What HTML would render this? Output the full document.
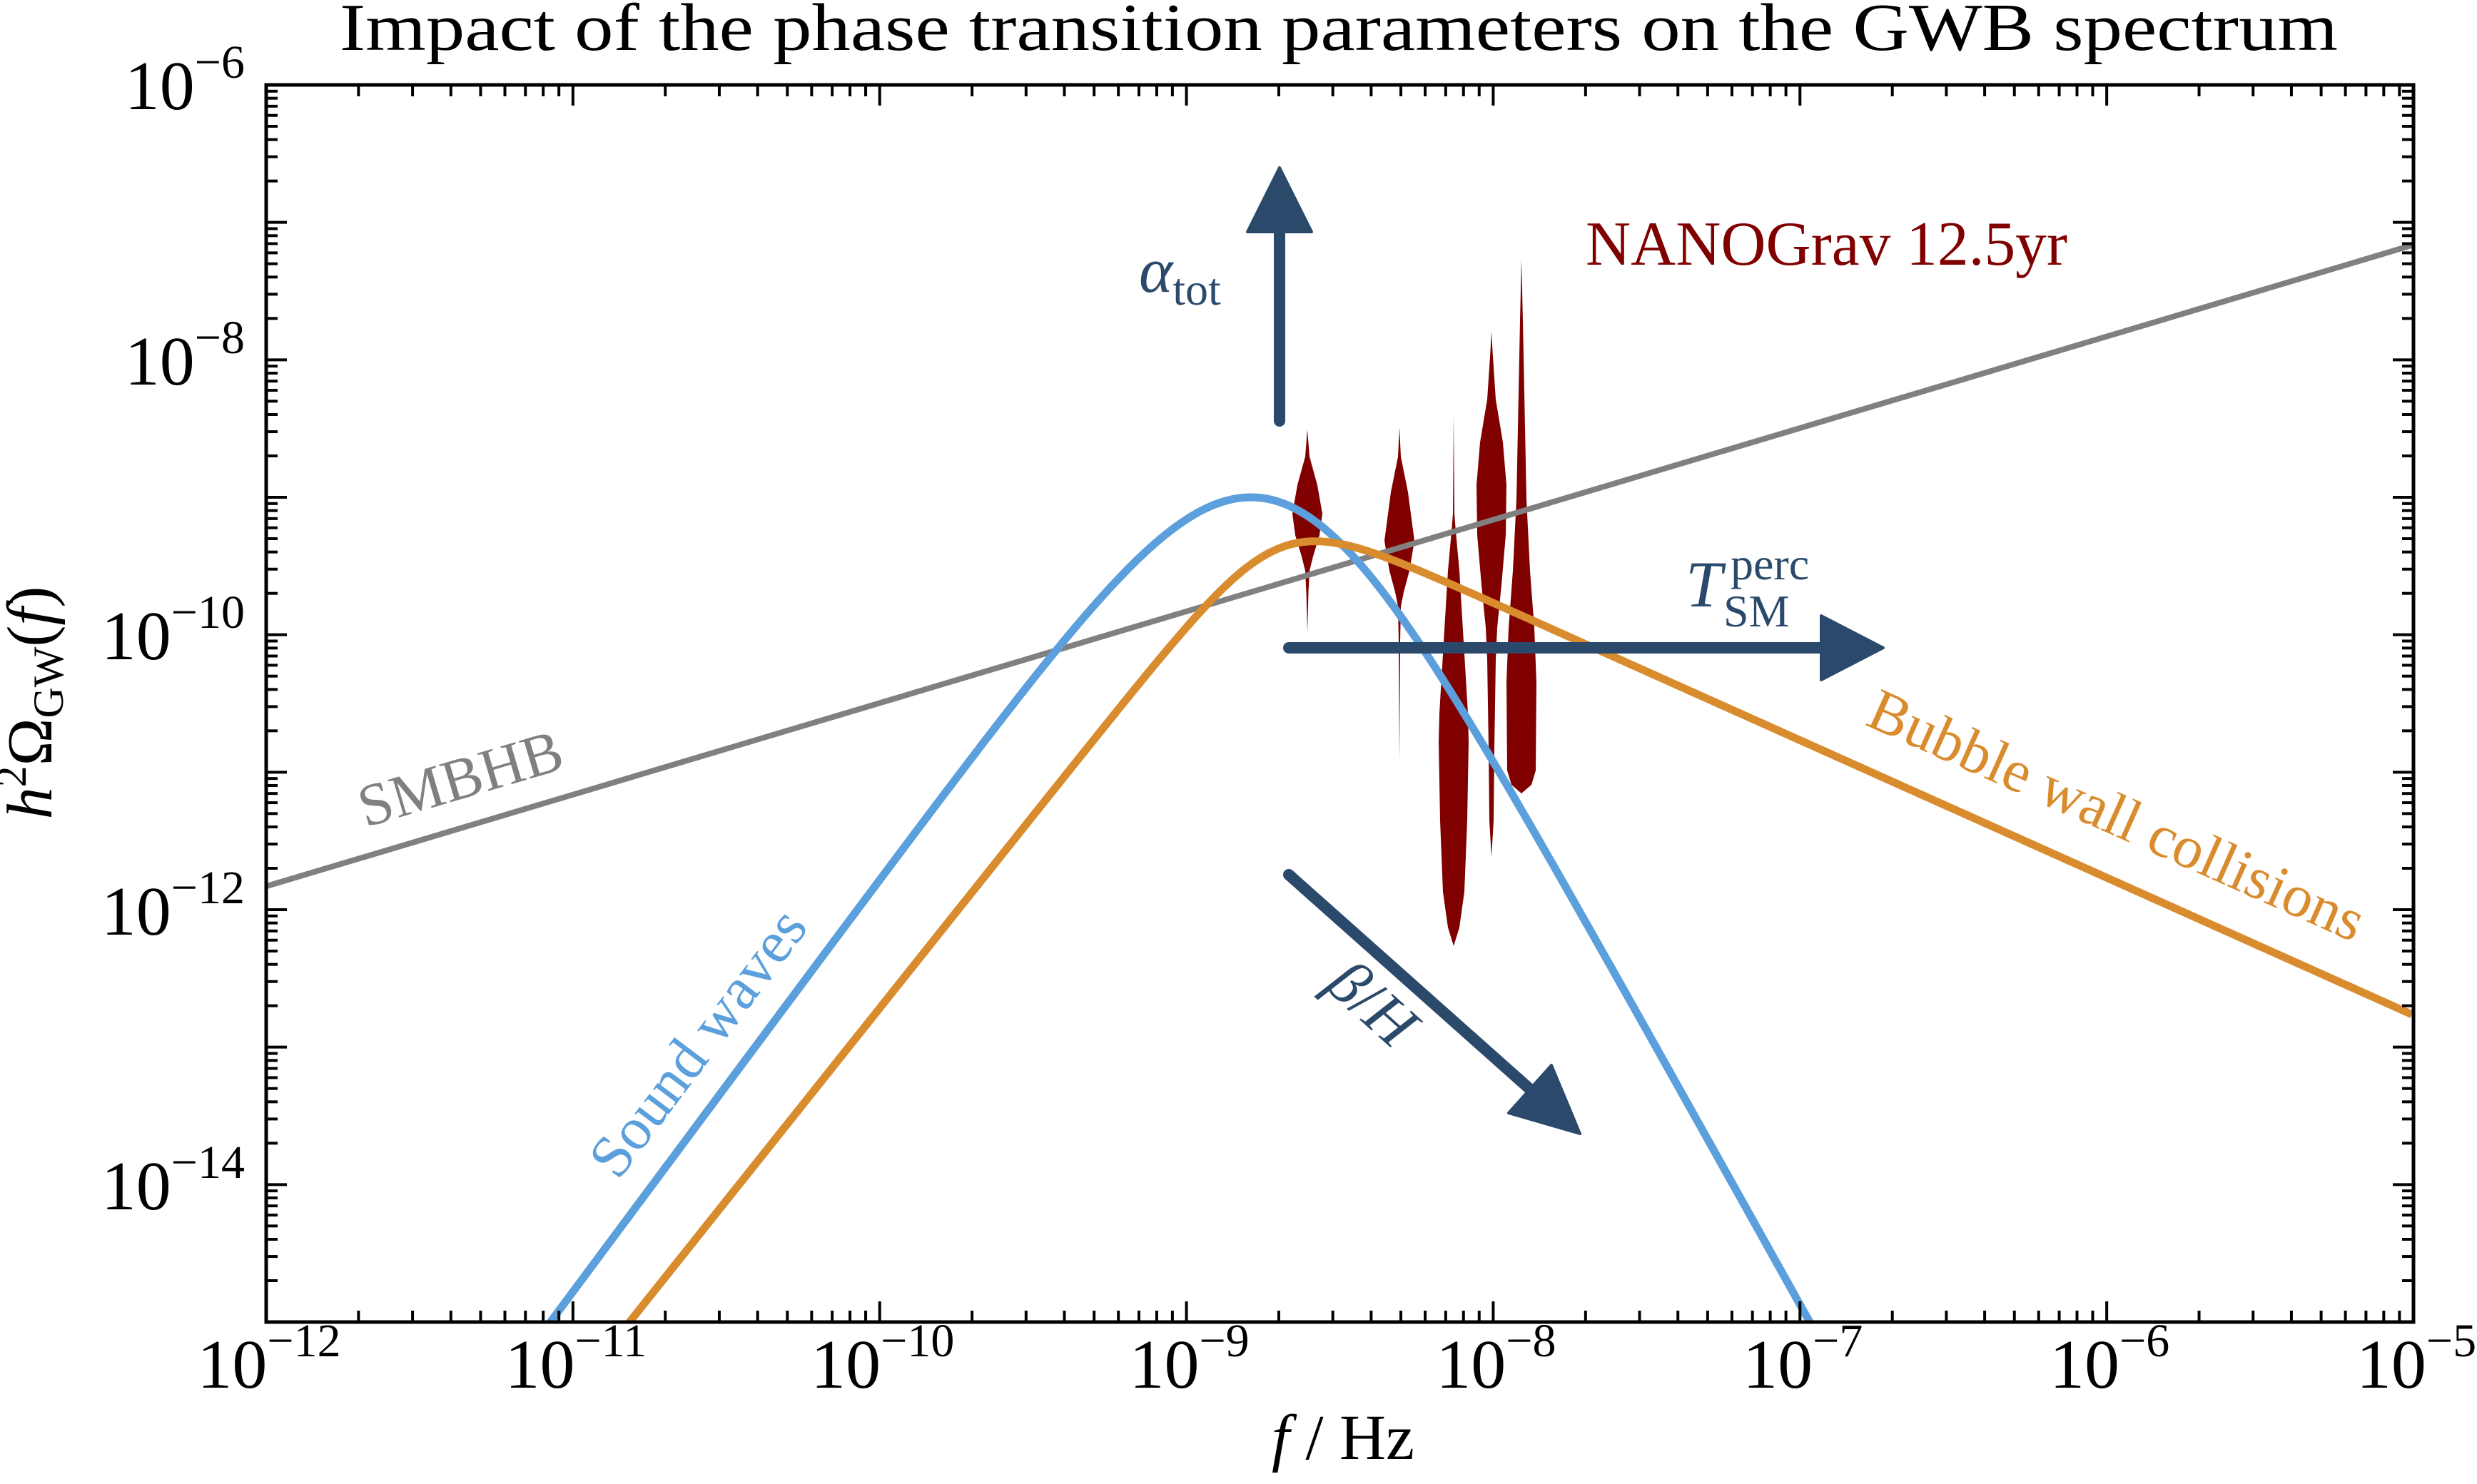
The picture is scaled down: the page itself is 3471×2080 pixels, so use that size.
<!DOCTYPE html>
<html><head><meta charset="utf-8"><style>
html,body{margin:0;padding:0;background:#fff;overflow:hidden;width:3471px;height:2080px;}
svg{display:block;}
text{font-family:"Liberation Serif",serif;}
</style></head><body>
<svg id="s" width="3471" height="2080" viewBox="0 0 3471 2080" xmlns="http://www.w3.org/2000/svg">
<rect width="3471" height="2080" fill="#fff"/>
<defs><clipPath id="c"><rect x="373" y="119" width="3009" height="1734"/></clipPath></defs>
<g id="curves" clip-path="url(#c)"></g>
<g id="ticks"></g>
<rect x="373" y="119" width="3009" height="1734" fill="none" stroke="#000" stroke-width="5"/>
<text x="476" y="70" font-size="94" textLength="2800" lengthAdjust="spacingAndGlyphs">Impact of the phase transition parameters on the GWB spectrum</text>
<g font-size="98" text-anchor="end">
<text x="343" y="153">10<tspan font-size="66" dy="-44">−6</tspan></text>
<text x="343" y="539">10<tspan font-size="66" dy="-44">−8</tspan></text>
<text x="343" y="924">10<tspan font-size="66" dy="-44">−10</tspan></text>
<text x="343" y="1310">10<tspan font-size="66" dy="-44">−12</tspan></text>
<text x="343" y="1695">10<tspan font-size="66" dy="-44">−14</tspan></text>
</g>
<g font-size="98" text-anchor="middle" id="xl"></g>
<text x="1882" y="2045" font-size="90" text-anchor="middle"><tspan font-style="italic">f</tspan>  /  Hz</text>
<text transform="translate(72,985) rotate(-90)" font-size="90" text-anchor="middle"><tspan font-style="italic">h</tspan><tspan font-size="60" dy="-36">2</tspan><tspan dy="36">Ω</tspan><tspan font-size="60" dy="16">GW</tspan><tspan dy="-16">(</tspan><tspan font-style="italic">f</tspan>)</text>
<text x="2222" y="371" font-size="88" fill="#800000" textLength="675" lengthAdjust="spacingAndGlyphs">NANOGrav 12.5yr</text>
<text x="1596" y="409" font-size="90" fill="#2b4a6b"><tspan font-style="italic">α</tspan><tspan font-size="64" dy="18">tot</tspan></text>
<g fill="#2b4a6b">
<text x="2362" y="850" font-size="92" font-style="italic">T</text>
<text x="2425" y="812" font-size="64">perc</text>
<text x="2415" y="878" font-size="64">SM</text>
</g>
<text transform="translate(1904,1428) rotate(42)" font-size="88" fill="#2b4a6b" text-anchor="middle"><tspan font-style="italic">β</tspan>/<tspan font-style="italic">H</tspan></text>
<text transform="translate(653,1118) rotate(-16.5)" font-size="84" fill="#808080" text-anchor="middle">SMBHB</text>
<text transform="translate(1000,1478) rotate(-53)" font-size="84" fill="#5b9fdc" text-anchor="middle">Sound waves</text>
<text transform="translate(2955,1168) rotate(24)" font-size="84" fill="#d98c2e" text-anchor="middle">Bubble wall collisions</text>
<g fill="#2b4a6b" stroke="#2b4a6b">
<line x1="1793" y1="590" x2="1793" y2="320" stroke-width="16" stroke-linecap="round"/>
<polygon points="1793,235 1838,325 1748,325" stroke-width="4" stroke-linejoin="round"/>
<line x1="1806" y1="908" x2="2555" y2="908" stroke-width="16" stroke-linecap="round"/>
<polygon points="2639,908 2552,863 2552,953" stroke-width="4" stroke-linejoin="round"/>
<line x1="1806" y1="1226" x2="2150" y2="1532" stroke-width="16" stroke-linecap="round"/>
<polygon points="2214,1589 2114,1560 2174,1493" stroke-width="4" stroke-linejoin="round"/>
</g>
</svg>
<script>
var NS="http://www.w3.org/2000/svg";
function X(l){return 373+(l+12)*429.857;}
function Y(l){return 119+(-6-l)*192.667;}
function el(p,n,a){var e=document.createElementNS(NS,n);for(var k in a)e.setAttribute(k,a[k]);p.appendChild(e);return e;}
var cg=document.getElementById('curves');
var V=[[1832,[[602,0],[640,3],[680,14],[720,21],[750,17],[780,8],[800,3],[830,1.5],[886,0]]],
[1961,[[599,0],[640,2],[690,12],[758,21],[800,14],[830,6],[850,2],[900,1],[1067,0]]],
[2037,[[580,0],[720,1],[745,3],[800,8],[900,14],[1000,20],[1040,21],[1150,19],[1250,15],[1300,8],[1326,0]]],
[2090,[[465,0],[500,2],[560,6],[620,16],[680,21],[750,20],[820,14],[880,8],[924,6],[1050,4],[1150,3],[1201,0]]],
[2132,[[363,0],[450,2],[550,4],[700,7],[800,12],[880,18],[956,21],[1080,20],[1100,14],[1112,0]]]];
V.forEach(function(v){var x=v[0],p=v[1],a=[],b=[];
p.forEach(function(q){a.push((x+q[1]).toFixed(1)+","+q[0]);b.unshift((x-q[1]).toFixed(1)+","+q[0]);});
el(cg,'polygon',{points:a.concat(b).join(' '),fill:'#800000'});});
el(cg,'line',{x1:X(-12),y1:Y(-11.83),x2:X(-5),y2:Y(-11.83+14/3),stroke:'#808080','stroke-width':8});
function curve(fn,col){var pts=[];for(var l=-12;l<=-5;l+=0.005){var o=fn(l);pts.push(X(l).toFixed(1)+","+Y(o).toFixed(1));}
el(cg,'polyline',{points:pts.join(' '),fill:'none',stroke:col,'stroke-width':11,'stroke-linejoin':'round'});}
curve(function(l){var x=Math.pow(10,l+8.79);return -9.0+Math.log10(Math.pow(x,3)*Math.pow(7/(4+3*x*x),3.5));},'#5b9fdc');
curve(function(l){var x=Math.pow(10,l+8.58);return -9.32+Math.log10(3.8*Math.pow(x,2.8)/(1+2.8*Math.pow(x,3.8)));},'#d98c2e');
var tg=document.getElementById('ticks');
function tk(x1,y1,x2,y2){el(tg,'line',{x1:x1,y1:y1,x2:x2,y2:y2,stroke:'#000','stroke-width':4});}
for(var d=-12;d<=-5;d++){for(var k=1;k<10;k++){if(d==-5&&k>1)break;var x=X(d+Math.log10(k));var L=k==1?29:16;
tk(x,1853,x,1853-L);tk(x,119,x,119+L);}}
for(var d=-15;d<=-6;d++){for(var k=1;k<10;k++){if(d==-6&&k>1)break;var y=Y(d+Math.log10(k));var L=k==1?29:16;
tk(373,y,373+L,y);tk(3382,y,3382-L,y);}}
var xl=document.getElementById('xl');
for(var d=-12;d<=-5;d++){var t=el(xl,'text',{x:X(d)+4,y:1945});t.appendChild(document.createTextNode('10'));
var s=el(t,'tspan',{'font-size':66,dy:-44});s.appendChild(document.createTextNode('−'+(-d)));}
</script>
</body></html>
